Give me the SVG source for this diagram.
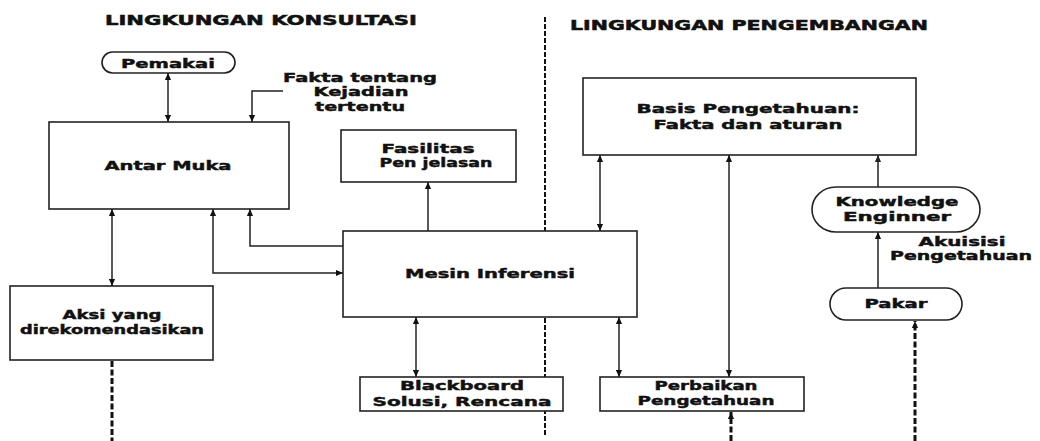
<svg xmlns="http://www.w3.org/2000/svg" width="1040" height="441" viewBox="0 0 1040 441">
  <defs>
    <marker id="arr" viewBox="0 0 8 8" refX="8" refY="4" markerWidth="7" markerHeight="7" markerUnits="userSpaceOnUse" orient="auto-start-reverse">
      <path d="M0,0.5 L8,4 L0,7.5 Z" fill="#111"/>
    </marker>
    <marker id="arrGray" viewBox="0 0 8 8" refX="8" refY="4" markerWidth="7" markerHeight="7" markerUnits="userSpaceOnUse" orient="auto-start-reverse">
      <path d="M0,0.5 L8,4 L0,7.5 Z" fill="#222"/>
    </marker>
    <style>
      .box { fill: #fff; stroke: #222; stroke-width: 1.6; }
      .lbl { font-family: "DejaVu Sans", "Liberation Sans", sans-serif; font-weight: bold; font-size: 13px; fill: #111; stroke: #111; stroke-width: 0.45; text-anchor: middle; }
      .title { font-family: "DejaVu Sans", "Liberation Sans", sans-serif; font-weight: bold; font-size: 13.5px; fill: #111; stroke: #111; stroke-width: 0.5; }
      .ln { fill: none; stroke: #222; stroke-width: 1.5; }
      .both { marker-start: url(#arr); marker-end: url(#arr); }
      .end { marker-end: url(#arr); }
      .dash { fill: none; stroke: #111; stroke-width: 3; stroke-dasharray: 6 2.5; }
      .divider { fill: none; stroke: #111; stroke-width: 2; stroke-dasharray: 5 2; }
    </style>
  </defs>
  <rect width="1040" height="441" fill="#fff"/>

  <!-- section headings and separator -->
  <text class="title" x="105" y="25" textLength="312" lengthAdjust="spacingAndGlyphs">LINGKUNGAN KONSULTASI</text>
  <text class="title" x="570" y="30" textLength="358" lengthAdjust="spacingAndGlyphs">LINGKUNGAN PENGEMBANGAN</text>
  <line class="divider" x1="545" y1="17" x2="545" y2="435"/>

  <!-- connectors -->
  <g id="connectors">
    <line class="ln both" x1="168" y1="73" x2="168" y2="122"/>
    <path class="ln end" d="M283,91 H252 V122"/>
    <line class="ln both" x1="112" y1="209" x2="112" y2="286"/>
    <path class="ln end" d="M343,246 H250 V209"/>
    <path class="ln both" d="M213,209 V273 H343"/>
    <line class="ln end" x1="428" y1="231" x2="428" y2="182"/>
    <line class="ln both" x1="416" y1="317" x2="416" y2="377"/>
    <line class="ln both" x1="600" y1="155" x2="600" y2="231"/>
    <line class="ln both" x1="619" y1="317" x2="619" y2="377"/>
    <line class="ln both" x1="729" y1="155" x2="729" y2="377"/>
    <line class="ln" x1="878" y1="187" x2="878" y2="155" stroke="#777" marker-end="url(#arrGray)"/>
    <line class="ln end" x1="878" y1="288" x2="878" y2="232"/>
    <line class="dash" x1="112" y1="361" x2="112" y2="441"/>
    <line class="dash end" x1="731" y1="441" x2="731" y2="412"/>
    <line class="dash end" x1="915" y1="441" x2="915" y2="321"/>
  </g>

  <!-- consultation side -->
  <g id="pemakai">
    <rect class="box" x="102" y="52" width="133" height="21" rx="10.5"/>
    <text class="lbl" x="168" y="68" textLength="94" lengthAdjust="spacingAndGlyphs">Pemakai</text>
  </g>
  <g id="fakta">
    <text class="lbl" x="360" y="82" textLength="154" lengthAdjust="spacingAndGlyphs">Fakta tentang</text>
    <text class="lbl" x="361" y="96" textLength="95" lengthAdjust="spacingAndGlyphs">Kejadian</text>
    <text class="lbl" x="360" y="111" textLength="90" lengthAdjust="spacingAndGlyphs">tertentu</text>
  </g>
  <g id="antar-muka">
    <rect class="box" x="49" y="122" width="240" height="87"/>
    <text class="lbl" x="168" y="170" textLength="127" lengthAdjust="spacingAndGlyphs">Antar Muka</text>
  </g>
  <g id="fasilitas">
    <rect class="box" x="341" y="130" width="175" height="52"/>
    <text class="lbl" x="428" y="153" textLength="93" lengthAdjust="spacingAndGlyphs">Fasilitas</text>
    <text class="lbl" x="436" y="167" textLength="113" lengthAdjust="spacingAndGlyphs">Pen jelasan</text>
  </g>
  <g id="aksi">
    <rect class="box" x="10" y="286" width="203" height="74"/>
    <text class="lbl" x="112" y="319" textLength="99" lengthAdjust="spacingAndGlyphs">Aksi yang</text>
    <text class="lbl" x="112" y="334" textLength="184" lengthAdjust="spacingAndGlyphs">direkomendasikan</text>
  </g>
  <g id="mesin-inferensi">
    <rect class="box" x="343" y="231" width="294" height="86"/>
    <text class="lbl" x="490" y="278" textLength="170" lengthAdjust="spacingAndGlyphs">Mesin Inferensi</text>
  </g>
  <g id="blackboard">
    <rect class="box" x="360" y="377" width="203" height="34"/>
    <text class="lbl" x="462" y="390" textLength="124" lengthAdjust="spacingAndGlyphs">Blackboard</text>
    <text class="lbl" x="462" y="406" textLength="179" lengthAdjust="spacingAndGlyphs">Solusi, Rencana</text>
  </g>

  <!-- development side -->
  <g id="basis-pengetahuan">
    <rect class="box" x="583" y="78" width="333" height="77"/>
    <text class="lbl" x="748" y="113" textLength="223" lengthAdjust="spacingAndGlyphs">Basis Pengetahuan:</text>
    <text class="lbl" x="748" y="129" textLength="189" lengthAdjust="spacingAndGlyphs">Fakta dan aturan</text>
  </g>
  <g id="knowledge-engineer">
    <rect class="box" x="812" y="187" width="168" height="45" rx="24"/>
    <text class="lbl" x="897" y="206" textLength="123" lengthAdjust="spacingAndGlyphs">Knowledge</text>
    <text class="lbl" x="897" y="221" textLength="108" lengthAdjust="spacingAndGlyphs">Enginner</text>
  </g>
  <g id="akuisisi">
    <text class="lbl" x="962" y="246" textLength="87" lengthAdjust="spacingAndGlyphs">Akuisisi</text>
    <text class="lbl" x="961" y="260" textLength="142" lengthAdjust="spacingAndGlyphs">Pengetahuan</text>
  </g>
  <g id="pakar">
    <rect class="box" x="830" y="288" width="132" height="32" rx="16"/>
    <text class="lbl" x="896" y="308" textLength="63" lengthAdjust="spacingAndGlyphs">Pakar</text>
  </g>
  <g id="perbaikan">
    <rect class="box" x="600" y="377" width="204" height="34"/>
    <text class="lbl" x="706" y="390" textLength="103" lengthAdjust="spacingAndGlyphs">Perbaikan</text>
    <text class="lbl" x="706" y="405" textLength="137" lengthAdjust="spacingAndGlyphs">Pengetahuan</text>
  </g>
</svg>
